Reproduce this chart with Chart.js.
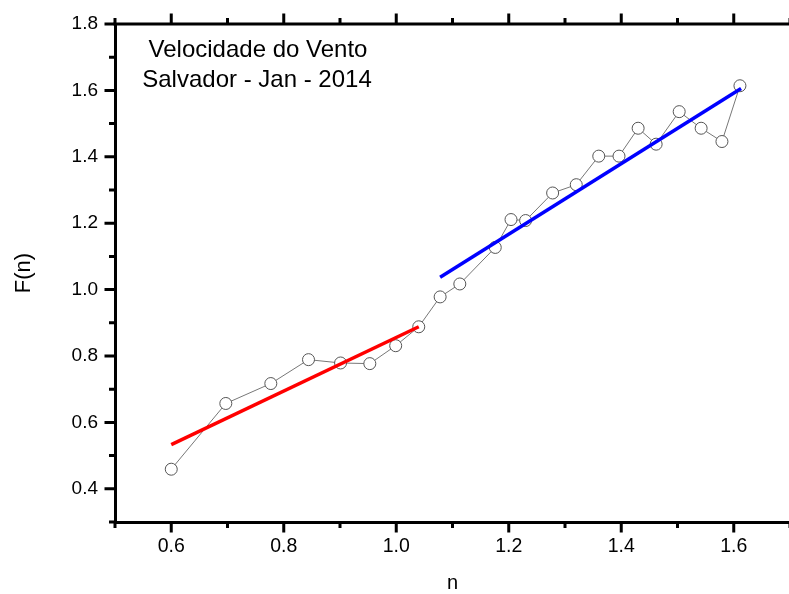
<!DOCTYPE html>
<html>
<head>
<meta charset="utf-8">
<script src="https://cdn.jsdelivr.net/npm/chart.js@4"></script>
<style>
	body { margin: 0; overflow: hidden; background: #fff; }
	canvas { display: block; }
</style>
</head>
<body>
<canvas id="fnChart" width="792" height="594"></canvas>
<script>
var nValues = [0.600, 0.697, 0.777, 0.844, 0.901, 0.953, 0.999, 1.040, 1.078, 1.113, 1.176, 1.204,
	1.230, 1.278, 1.320, 1.360, 1.396, 1.430, 1.462, 1.503, 1.542, 1.579, 1.611];
var fValues = [0.459, 0.657, 0.717, 0.789, 0.779, 0.777, 0.831, 0.888, 0.978, 1.017, 1.127, 1.211,
	1.208, 1.291, 1.316, 1.402, 1.402, 1.486, 1.438, 1.536, 1.486, 1.446, 1.614];
// linear fits, start and end
var redFitN = [0.600, 1.040];
var redFitF = [0.533, 0.888];
var blueFitN = [1.078, 1.613];
var blueFitF = [1.037, 1.606];
var titleLines = ['Velocidade do Vento', 'Salvador - Jan - 2014'];

var FONT = '"Liberation Sans", Arial, sans-serif';

var _toPoints = function(xs, ys) {
	var pts = [];
	for (var i = 0; i < xs.length; i++) {
		pts.push({x: xs[i], y: ys[i]});
	}
	return pts;
};

var _isMajor = function(v) {
	return Math.round(v * 10) % 2 === 0;
};

// origin style frame: outward ticks, minor ticks, top axis
var frameTicks = {
	id: 'frameTicks',
	afterDraw: function(chart) {
		var ctx = chart.ctx;
		var a = chart.chartArea;
		var xs = chart.scales.x;
		var ys = chart.scales.y;
		ctx.save();
		ctx.strokeStyle = '#000';
		ctx.lineWidth = 3;
		ctx.beginPath();
		ctx.moveTo(a.left - 1.5, a.top);
		ctx.lineTo(a.right + 1, a.top);
		ctx.lineTo(a.right + 1, a.bottom);
		ctx.stroke();
		ctx.beginPath();
		xs.ticks.forEach(function(t) {
			var p = xs.getPixelForValue(t.value);
			var len = _isMajor(t.value) ? 10.5 : 6;
			ctx.moveTo(p, a.bottom);
			ctx.lineTo(p, a.bottom + len);
			ctx.moveTo(p, a.top);
			ctx.lineTo(p, a.top - len);
		});
		ys.ticks.forEach(function(t) {
			var p = ys.getPixelForValue(t.value);
			var len = _isMajor(t.value) ? 10.5 : 6;
			ctx.moveTo(a.left, p);
			ctx.lineTo(a.left - len, p);
		});
		ctx.stroke();
		// title inside the plot
		ctx.fillStyle = '#000';
		ctx.font = '24px ' + FONT;
		ctx.textAlign = 'center';
		ctx.textBaseline = 'alphabetic';
		ctx.fillText(titleLines[0], 258, 57);
		ctx.fillText(titleLines[1], 257, 87);
		ctx.restore();
	}
};

var tickLabel = function(value) {
	return _isMajor(value) ? value.toFixed(1) : '';
};

window.addEventListener('load', function() {
	var ctx = document.getElementById('fnChart');
	new Chart(ctx, {
		type: 'scatter',
		data: {
			datasets: [
				{
					data: _toPoints(blueFitN, blueFitF),
					showLine: true,
					borderColor: '#0000ff',
					borderWidth: 3.5,
					pointRadius: 0
				},
				{
					data: _toPoints(redFitN, redFitF),
					showLine: true,
					borderColor: '#ff0000',
					borderWidth: 3.5,
					pointRadius: 0
				},
				{
					data: _toPoints(nValues, fValues),
					showLine: true,
					borderColor: '#777',
					borderWidth: 1,
					pointRadius: 6,
					pointBorderColor: '#555',
					pointBackgroundColor: '#fff',
					pointBorderWidth: 1
				}
			]
		},
		options: {
			responsive: false,
			animation: false,
			layout: { autoPadding: false, padding: { top: 24, right: 2, left: 0, bottom: 0 } },
			plugins: {
				legend: { display: false },
				tooltip: { enabled: false }
			},
			scales: {
				x: {
					type: 'linear',
					min: 0.5,
					max: 1.7,
					// grid hidden, tickLength only used as label offset
					grid: { display: false, drawTicks: true, tickLength: 13 },
					border: { display: true, width: 3, color: '#000' },
					ticks: {
						stepSize: 0.1,
						autoSkip: false,
						maxRotation: 0,
						padding: 0,
						color: '#000',
						font: { family: FONT, size: 19.5 },
						callback: tickLabel
					},
					title: {
						display: true,
						text: 'n',
						color: '#000',
						font: { family: FONT, size: 20, lineHeight: 1 },
						padding: { top: 0, bottom: 0.5 }
					},
					afterFit: function(scale) {
						scale.height = 72;
					}
				},
				y: {
					type: 'linear',
					min: 0.3,
					max: 1.8,
					grid: { display: false, drawTicks: true, tickLength: 17 },
					border: { display: true, width: 3, color: '#000' },
					ticks: {
						stepSize: 0.1,
						autoSkip: false,
						padding: 0,
						color: '#000',
						font: { family: FONT, size: 19 },
						callback: tickLabel
					},
					title: {
						display: true,
						text: 'F(n)',
						color: '#000',
						font: { family: FONT, size: 22, lineHeight: 1 },
						padding: { top: 13, bottom: 0 }
					},
					afterFit: function(scale) {
						scale.width = 115;
					}
				}
			}
		},
		plugins: [frameTicks]
	});
});
</script>
</body>
</html>
